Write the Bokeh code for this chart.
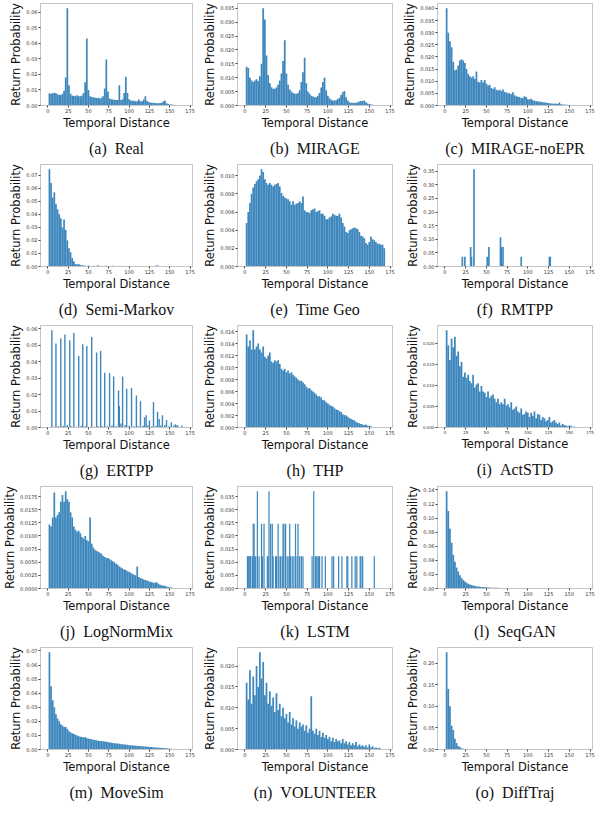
from bokeh.plotting import figure
from bokeh.layouts import gridplot
from bokeh.models import FixedTicker, PrintfTickFormatter, Range1d
from bokeh.embed import file_html
from bokeh.resources import INLINE

# ---------------- data ----------------
# bin centres (hours), bins of width 2
hours = list(range(2, 170, 2))
x_ticks = [0, 25, 50, 75, 100, 125, 150, 175]

real = [0.0078, 0.0076, 0.0078, 0.0082, 0.0078, 0.0072, 0.0068, 0.0068, 0.0075, 0.0095,
        0.0180, 0.0624, 0.0130, 0.0075, 0.0063, 0.0062, 0.0060, 0.0066, 0.0060, 0.0060,
        0.0065, 0.0080, 0.0150, 0.0430, 0.0100, 0.0060, 0.0055, 0.0053, 0.0050, 0.0048,
        0.0050, 0.0045, 0.0050, 0.0060, 0.0110, 0.0295, 0.0090, 0.0045, 0.0040, 0.0038,
        0.0037, 0.0035, 0.0035, 0.0130, 0.0036, 0.0040, 0.0080, 0.0185, 0.0080, 0.0040,
        0.0032, 0.0030, 0.0030, 0.0028, 0.0027, 0.0038, 0.0028, 0.0028, 0.0038, 0.0060,
        0.0030, 0.0022, 0.0020, 0.0018, 0.0017, 0.0016, 0.0015, 0.0015, 0.0016, 0.0018,
        0.0025, 0.0032, 0.0015, 0.0010, 0.0007, 0.0006, 0.0005, 0.0004, 0.0004, 0.0003,
        0.0003, 0.0002, 0.0002, 0.0001]

mirage = [0.0140, 0.0135, 0.0100, 0.0090, 0.0085, 0.0090, 0.0095, 0.0088, 0.0105, 0.0150,
          0.0350, 0.0310, 0.0180, 0.0110, 0.0080, 0.0066, 0.0060, 0.0060, 0.0065, 0.0075,
          0.0090, 0.0115, 0.0160, 0.0235, 0.0115, 0.0075, 0.0058, 0.0050, 0.0045, 0.0042,
          0.0042, 0.0045, 0.0055, 0.0085, 0.0120, 0.0172, 0.0080, 0.0050, 0.0042, 0.0035,
          0.0032, 0.0030, 0.0030, 0.0035, 0.0045, 0.0065, 0.0085, 0.0100, 0.0055, 0.0035,
          0.0026, 0.0021, 0.0018, 0.0018, 0.0019, 0.0023, 0.0028, 0.0038, 0.0048, 0.0052,
          0.0030, 0.0018, 0.0012, 0.0010, 0.0010, 0.0009, 0.0010, 0.0012, 0.0014, 0.0016,
          0.0016, 0.0018, 0.0012, 0.0007, 0.0005, 0.0004, 0.0003, 0.0002, 0.0002, 0.0001,
          0.0001, 0.0001, 0.0001, 0.0000]

mirage_noepr = [0.0400, 0.0300, 0.0265, 0.0240, 0.0180, 0.0145, 0.0148, 0.0165, 0.0185, 0.0190,
                0.0185, 0.0175, 0.0150, 0.0130, 0.0120, 0.0115, 0.0120, 0.0110, 0.0140, 0.0098,
                0.0095, 0.0105, 0.0095, 0.0105, 0.0090, 0.0082, 0.0085, 0.0072, 0.0068, 0.0075,
                0.0065, 0.0062, 0.0065, 0.0060, 0.0066, 0.0056, 0.0055, 0.0050, 0.0050, 0.0046,
                0.0055, 0.0042, 0.0038, 0.0036, 0.0035, 0.0030, 0.0032, 0.0038, 0.0035, 0.0026,
                0.0025, 0.0028, 0.0022, 0.0020, 0.0018, 0.0018, 0.0015, 0.0015, 0.0013, 0.0012,
                0.0012, 0.0010, 0.0009, 0.0008, 0.0008, 0.0007, 0.0008, 0.0006, 0.0012, 0.0005,
                0.0004, 0.0004, 0.0003, 0.0003, 0.0002, 0.0002, 0.0002, 0.0001]

semi_markov = [0.0745, 0.0640, 0.0530, 0.0570, 0.0480, 0.0440, 0.0400, 0.0370, 0.0300, 0.0360,
               0.0280, 0.0200, 0.0140, 0.0110, 0.0065, 0.0040, 0.0020, 0.0015, 0.0020, 0.0012,
               0.0010, 0.0008, 0.0005, 0.0004, 0.0008, 0.0003, 0.0003, 0.0005, 0.0000, 0.0003,
               0.0010, 0.0000, 0.0000, 0.0002, 0.0000, 0.0005, 0.0000, 0.0003, 0.0000, 0.0005,
               0.0003, 0.0000, 0.0000, 0.0000, 0.0000, 0.0000, 0.0000, 0.0000, 0.0000, 0.0000,
               0.0000, 0.0000, 0.0000, 0.0000, 0.0000, 0.0000, 0.0000, 0.0000, 0.0000, 0.0000,
               0.0000, 0.0000, 0.0000, 0.0000, 0.0000, 0.0000, 0.0010, 0.0005]

time_geo = [0.0048, 0.0060, 0.0070, 0.0080, 0.0087, 0.0091, 0.0094, 0.0096, 0.0100, 0.0107,
            0.0104, 0.0096, 0.0092, 0.0090, 0.0092, 0.0090, 0.0088, 0.0090, 0.0091, 0.0092,
            0.0088, 0.0081, 0.0078, 0.0076, 0.0075, 0.0074, 0.0072, 0.0068, 0.0072, 0.0068,
            0.0069, 0.0070, 0.0072, 0.0070, 0.0077, 0.0062, 0.0060, 0.0060, 0.0059, 0.0062,
            0.0063, 0.0064, 0.0060, 0.0061, 0.0062, 0.0058, 0.0058, 0.0056, 0.0052, 0.0052,
            0.0054, 0.0055, 0.0058, 0.0057, 0.0056, 0.0056, 0.0058, 0.0054, 0.0048, 0.0044,
            0.0038, 0.0037, 0.0040, 0.0041, 0.0042, 0.0043, 0.0042, 0.0041, 0.0038, 0.0034,
            0.0033, 0.0031, 0.0026, 0.0024, 0.0027, 0.0033, 0.0030, 0.0029, 0.0027, 0.0025,
            0.0025, 0.0024, 0.0024, 0.0020]

rmtpp_hours = [21, 24, 31, 32, 35, 51, 53, 67, 68, 70, 92, 126, 127]
rmtpp_prob = [0.0357, 0.0357, 0.0714, 0.0357, 0.3571, 0.0357, 0.0714, 0.1071, 0.0714, 0.0714,
              0.0357, 0.0357, 0.0357]

ertpp_hours = [5, 10, 16, 21, 27, 32, 38, 43, 48, 54,
               60, 65, 70, 76, 81, 87, 88, 92, 97, 103,
               109, 114, 119, 121, 125, 130, 135, 137, 141, 146,
               152, 157, 159, 165,
               8, 13, 19, 24, 29, 35, 41, 46, 52, 57,
               62, 67, 73, 79, 84, 90, 95, 100, 106, 111,
               117, 123, 128, 133, 139, 144, 149, 155, 160]
ertpp_prob = [0.0590, 0.0510, 0.0540, 0.0565, 0.0530, 0.0575, 0.0435, 0.0505, 0.0495, 0.0550,
              0.0455, 0.0465, 0.0332, 0.0330, 0.0310, 0.0225, 0.0130, 0.0310, 0.0235, 0.0240,
              0.0195, 0.0160, 0.0063, 0.0075, 0.0043, 0.0155, 0.0095, 0.0052, 0.0075, 0.0045,
              0.0032, 0.0020, 0.0015, 0.0012,
              0.0005, 0.0008, 0.0010, 0.0015, 0.0008, 0.0005, 0.0010, 0.0008, 0.0005, 0.0005,
              0.0008, 0.0008, 0.0008, 0.0012, 0.0008, 0.0025, 0.0015, 0.0010, 0.0008, 0.0008,
              0.0010, 0.0012, 0.0008, 0.0010, 0.0012, 0.0015, 0.0008, 0.0012, 0.0008]

thp = [0.0155, 0.0135, 0.0145, 0.0130, 0.0162, 0.0130, 0.0135, 0.0140, 0.0130, 0.0125,
       0.0135, 0.0118, 0.0115, 0.0120, 0.0125, 0.0110, 0.0108, 0.0112, 0.0110, 0.0112,
       0.0106, 0.0098, 0.0095, 0.0098, 0.0092, 0.0095, 0.0090, 0.0092, 0.0088, 0.0085,
       0.0083, 0.0080, 0.0078, 0.0078, 0.0075, 0.0072, 0.0068, 0.0065, 0.0066, 0.0062,
       0.0060, 0.0058, 0.0055, 0.0052, 0.0052, 0.0050, 0.0046, 0.0045, 0.0042, 0.0040,
       0.0038, 0.0036, 0.0035, 0.0032, 0.0030, 0.0029, 0.0027, 0.0026, 0.0022, 0.0021,
       0.0020, 0.0018, 0.0016, 0.0014, 0.0013, 0.0012, 0.0009, 0.0008, 0.0007, 0.0006,
       0.0005, 0.0004, 0.0005, 0.0003, 0.0003, 0.0002, 0.0001, 0.0001, 0.0000, 0.0001,
       0.0001]

actstd = [0.0230, 0.0195, 0.0160, 0.0210, 0.0190, 0.0215, 0.0170, 0.0180, 0.0145, 0.0155,
          0.0120, 0.0130, 0.0118, 0.0125, 0.0110, 0.0105, 0.0125, 0.0095, 0.0102, 0.0105,
          0.0085, 0.0098, 0.0085, 0.0082, 0.0072, 0.0085, 0.0070, 0.0075, 0.0078, 0.0068,
          0.0060, 0.0068, 0.0055, 0.0060, 0.0055, 0.0068, 0.0052, 0.0055, 0.0048, 0.0060,
          0.0042, 0.0045, 0.0050, 0.0038, 0.0035, 0.0045, 0.0030, 0.0032, 0.0038, 0.0035,
          0.0025, 0.0035, 0.0028, 0.0038, 0.0022, 0.0032, 0.0030, 0.0018, 0.0025, 0.0022,
          0.0015, 0.0018, 0.0025, 0.0012, 0.0015, 0.0018, 0.0012, 0.0008, 0.0012, 0.0005,
          0.0008, 0.0006, 0.0005, 0.0003, 0.0005, 0.0004, 0.0002, 0.0002, 0.0001, 0.0001]

lognormmix = [0.0122, 0.0118, 0.0135, 0.0183, 0.0135, 0.0140, 0.0145, 0.0165, 0.0178, 0.0165,
              0.0185, 0.0170, 0.0165, 0.0145, 0.0135, 0.0118, 0.0112, 0.0108, 0.0110, 0.0105,
              0.0098, 0.0095, 0.0100, 0.0092, 0.0090, 0.0135, 0.0085, 0.0078, 0.0074, 0.0072,
              0.0070, 0.0068, 0.0066, 0.0062, 0.0060, 0.0058, 0.0058, 0.0056, 0.0054, 0.0052,
              0.0050, 0.0047, 0.0045, 0.0042, 0.0040, 0.0038, 0.0036, 0.0035, 0.0033, 0.0032,
              0.0030, 0.0028, 0.0026, 0.0025, 0.0042, 0.0022, 0.0020, 0.0019, 0.0017, 0.0016,
              0.0015, 0.0014, 0.0013, 0.0012, 0.0011, 0.0011, 0.0012, 0.0009, 0.0007, 0.0006,
              0.0005, 0.0005, 0.0004, 0.0003, 0.0002, 0.0002, 0.0001, 0.0001, 0.0001]

lstm_hours = [3, 4, 5, 6, 7, 9, 10, 11, 12, 13,
              15, 17, 20, 21, 23, 27, 28, 29, 31, 33,
              34, 37, 38, 40, 41, 43, 45, 46, 47, 49,
              51, 53, 54, 55, 57, 59, 61, 63, 64, 66,
              68, 70, 81, 83, 85, 86, 88, 89, 90, 93,
              97, 105, 107, 113, 117, 123, 124, 129, 133, 135,
              139, 140, 142, 156]
lstm_prob = [0.0123, 0.0123, 0.0123, 0.0123, 0.0123, 0.0123, 0.0247, 0.0247, 0.0123, 0.0123,
             0.0370, 0.0123, 0.0247, 0.0123, 0.0247, 0.0123, 0.0123, 0.0370, 0.0247, 0.0247,
             0.0123, 0.0123, 0.0123, 0.0247, 0.0123, 0.0123, 0.0123, 0.0247, 0.0247, 0.0247,
             0.0123, 0.0123, 0.0247, 0.0123, 0.0123, 0.0123, 0.0247, 0.0123, 0.0247, 0.0123,
             0.0123, 0.0123, 0.0123, 0.0370, 0.0123, 0.0123, 0.0123, 0.0123, 0.0123, 0.0123,
             0.0123, 0.0123, 0.0123, 0.0123, 0.0123, 0.0123, 0.0123, 0.0123, 0.0123, 0.0123,
             0.0123, 0.0123, 0.0123, 0.0123]

seqgan = [0.1380, 0.1100, 0.0850, 0.0650, 0.0480, 0.0380, 0.0300, 0.0240, 0.0190, 0.0150,
          0.0120, 0.0098, 0.0080, 0.0068, 0.0058, 0.0050, 0.0043, 0.0037, 0.0032, 0.0028,
          0.0025, 0.0022, 0.0020, 0.0018, 0.0016, 0.0014, 0.0013, 0.0012, 0.0011, 0.0010,
          0.0009, 0.0009, 0.0008, 0.0008, 0.0007, 0.0007, 0.0006, 0.0006, 0.0006, 0.0005,
          0.0005, 0.0005, 0.0005, 0.0004, 0.0004, 0.0004, 0.0004, 0.0004, 0.0003, 0.0003,
          0.0003, 0.0003, 0.0003, 0.0003, 0.0003, 0.0003, 0.0002, 0.0002, 0.0002, 0.0002,
          0.0002, 0.0002, 0.0002, 0.0002, 0.0002, 0.0002, 0.0002, 0.0002, 0.0002, 0.0002,
          0.0002, 0.0002, 0.0001, 0.0001, 0.0001, 0.0001, 0.0001, 0.0001, 0.0001, 0.0001,
          0.0001, 0.0001, 0.0001, 0.0001]

movesim = [0.0690, 0.0450, 0.0350, 0.0300, 0.0250, 0.0220, 0.0200, 0.0180, 0.0170, 0.0160,
           0.0160, 0.0145, 0.0130, 0.0120, 0.0115, 0.0110, 0.0105, 0.0100, 0.0095, 0.0090,
           0.0088, 0.0085, 0.0088, 0.0080, 0.0078, 0.0075, 0.0072, 0.0070, 0.0068, 0.0066,
           0.0063, 0.0061, 0.0060, 0.0058, 0.0056, 0.0055, 0.0053, 0.0050, 0.0048, 0.0047,
           0.0045, 0.0043, 0.0042, 0.0040, 0.0038, 0.0037, 0.0035, 0.0034, 0.0033, 0.0031,
           0.0030, 0.0029, 0.0028, 0.0027, 0.0026, 0.0025, 0.0024, 0.0023, 0.0022, 0.0021,
           0.0020, 0.0019, 0.0018, 0.0017, 0.0016, 0.0015, 0.0014, 0.0013, 0.0012, 0.0011,
           0.0010, 0.0009, 0.0008, 0.0007, 0.0006, 0.0005, 0.0004, 0.0003, 0.0003, 0.0002,
           0.0001, 0.0001]

volunteer = [0.0160, 0.0120, 0.0190, 0.0110, 0.0175, 0.0130, 0.0200, 0.0150, 0.0233, 0.0170,
             0.0210, 0.0130, 0.0160, 0.0110, 0.0140, 0.0105, 0.0125, 0.0090, 0.0135, 0.0095,
             0.0110, 0.0080, 0.0100, 0.0075, 0.0085, 0.0065, 0.0090, 0.0060, 0.0075, 0.0055,
             0.0070, 0.0050, 0.0065, 0.0055, 0.0060, 0.0045, 0.0058, 0.0040, 0.0050, 0.0128,
             0.0045, 0.0038, 0.0050, 0.0035, 0.0045, 0.0030, 0.0040, 0.0028, 0.0035, 0.0025,
             0.0030, 0.0020, 0.0028, 0.0018, 0.0025, 0.0020, 0.0022, 0.0015, 0.0025, 0.0015,
             0.0020, 0.0012, 0.0018, 0.0010, 0.0015, 0.0010, 0.0018, 0.0008, 0.0012, 0.0008,
             0.0010, 0.0006, 0.0010, 0.0005, 0.0012, 0.0005, 0.0008, 0.0003, 0.0005, 0.0003,
             0.0004, 0.0002]

difftraj = [0.2250, 0.1400, 0.1000, 0.0550, 0.0450, 0.0250, 0.0150, 0.0080, 0.0050, 0.0030,
            0.0020, 0.0012, 0.0008, 0.0004, 0.0002]

# ---------------- panels ----------------
BAR = "#3d87bd"
SPINE = "#c4c4c4"
NB = "\u00a0"


def panel(letter, name, xs, ys, bar_w, step, decimals, tick_px="5px"):
    ymax = max(ys) * 1.05
    p = figure(width=200, height=161, output_backend="svg", toolbar_location=None,
               x_range=Range1d(-9, 178), y_range=Range1d(0, ymax),
               title="(" + letter + ")" + NB + NB + name, title_location="below",
               x_axis_label="Temporal Distance", y_axis_label="Return Probability",
               min_border_top=3, min_border_right=8, min_border_left=2, min_border_bottom=0,
               background_fill_color="white", border_fill_color="white",
               outline_line_color=SPINE)
    p.vbar(x=xs, top=ys, bottom=0, width=bar_w, fill_color=BAR, fill_alpha=1.0,
           line_color=None)
    p.xgrid.visible = False
    p.ygrid.visible = False
    n = int(ymax / step + 1e-9)
    p.yaxis.ticker = FixedTicker(ticks=[round(k * step, 6) for k in range(n + 1)])
    p.yaxis.formatter = PrintfTickFormatter(format="%." + str(decimals) + "f")
    p.xaxis.ticker = FixedTicker(ticks=x_ticks)
    for ax in (p.xaxis[0], p.yaxis[0]):
        ax.axis_line_color = SPINE
        ax.major_tick_line_color = "#444444"
        ax.major_tick_out = 2
        ax.major_tick_in = 0
        ax.minor_tick_out = 0
        ax.minor_tick_in = 0
        ax.major_label_text_font = "DejaVu Sans"
        ax.major_label_text_font_size = tick_px
        ax.major_label_text_color = "#333333"
        ax.major_label_standoff = 1
        ax.axis_label_text_font = "DejaVu Sans"
        ax.axis_label_text_font_size = "11.5px"
        ax.axis_label_text_font_style = "normal"
        ax.axis_label_text_color = "#111111"
        ax.axis_label_standoff = 0
    p.title.text_font = "Liberation Serif"
    p.title.text_font_size = "16px"
    p.title.text_font_style = "normal"
    p.title.text_color = "#111111"
    p.title.align = "center"
    p.title.standoff = 10
    return p


def h(v):
    return hours[:len(v)]


figs = [
    panel("a", "Real", h(real), real, 2.1, 0.01, 2),
    panel("b", "MIRAGE", h(mirage), mirage, 2.1, 0.005, 3),
    panel("c", "MIRAGE-noEPR", h(mirage_noepr), mirage_noepr, 2.1, 0.005, 3),
    panel("d", "Semi-Markov", h(semi_markov), semi_markov, 2.1, 0.01, 2),
    panel("e", "Time Geo", h(time_geo), time_geo, 2.1, 0.002, 3),
    panel("f", "RMTPP", rmtpp_hours, rmtpp_prob, 2.0, 0.05, 2),
    panel("g", "ERTPP", ertpp_hours, ertpp_prob, 1.7, 0.01, 2),
    panel("h", "THP", h(thp), thp, 2.1, 0.002, 3),
    panel("i", "ActSTD", h(actstd), actstd, 2.1, 0.005, 3, tick_px="4px"),
    panel("j", "LogNormMix", h(lognormmix), lognormmix, 2.1, 0.0025, 4),
    panel("k", "LSTM", lstm_hours, lstm_prob, 1.5, 0.005, 3),
    panel("l", "SeqGAN", h(seqgan), seqgan, 2.1, 0.02, 2),
    panel("m", "MoveSim", h(movesim), movesim, 2.1, 0.01, 2),
    panel("n", "VOLUNTEER", h(volunteer), volunteer, 2.1, 0.005, 3),
    panel("o", "DiffTraj", h(difftraj), difftraj, 2.1, 0.05, 2),
]

grid = gridplot([figs[i:i + 3] for i in range(0, 15, 3)], toolbar_location=None)

open("out.html", "w").write(file_html(grid, INLINE))
